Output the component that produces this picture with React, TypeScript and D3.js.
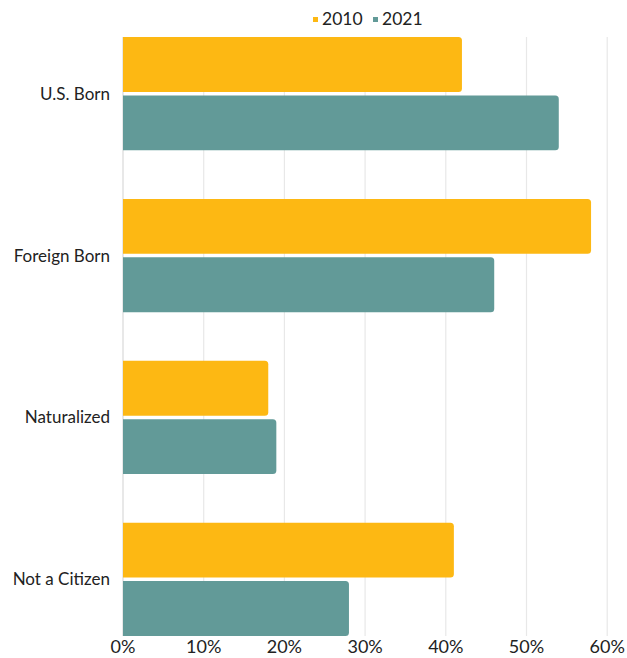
import React, { useRef, useEffect } from 'react';
import * as d3 from 'd3';

const categories = ['U.S. Born', 'Foreign Born', 'Naturalized', 'Not a Citizen'];
const seriesNames = ['2010', '2021'];
const values2010 = [42, 58, 18, 41];
const values2021 = [54, 46, 19, 28];
const xTicks = [0, 10, 20, 30, 40, 50, 60];
const colors = ['#FDB813', '#629A98'];

const width = 627;
const height = 658;

// horizontal bar with rounded right end only
const barPath = (x0: number, x1: number, y: number, h: number, r: number) => {
  const rr = Math.min(r, (x1 - x0) / 2, h / 2);
  return `M${x0},${y}H${x1 - rr}Q${x1},${y} ${x1},${y + rr}V${y + h - rr}Q${x1},${y + h} ${x1 - rr},${y + h}H${x0}Z`;
};

const App: React.FC = () => {
  const ref = useRef<SVGSVGElement>(null);

  useEffect(() => {
    const svg = d3.select(ref.current);
    svg.selectAll('*').remove();

    const margin = { top: 37, right: 20, bottom: 22, left: 123 };
    const font = 'Lato, sans-serif';

    const x = d3.scaleLinear().domain([0, 60]).range([margin.left, margin.left + 80.7 * 6]);
    const y = d3.scaleBand<string>()
      .domain(categories)
      .range([margin.top, height - margin.bottom])
      .paddingInner(0.3)
      .paddingOuter(0);
    const ySub = d3.scaleBand<string>()
      .domain(seriesNames)
      .range([0, y.bandwidth()])
      .paddingInner(0.06);

    // gridlines
    svg.append('g')
      .selectAll('line')
      .data(xTicks)
      .join('line')
      .attr('x1', d => x(d))
      .attr('x2', d => x(d))
      .attr('y1', margin.top)
      .attr('y2', height - margin.bottom)
      .attr('stroke', d => (d === 0 ? '#d9d9d9' : '#e8e8e8'))
      .attr('stroke-width', 1.2);

    // bars
    const series = [values2010, values2021];
    series.forEach((vals, si) => {
      svg.append('g')
        .selectAll('path')
        .data(categories)
        .join('path')
        .attr('fill', colors[si])
        .attr('d', (c, i) =>
          barPath(x(0), x(vals[i]), (y(c) as number) + (ySub(seriesNames[si]) as number), ySub.bandwidth(), 3.5)
        );
    });

    // category labels
    svg.append('g')
      .selectAll('text')
      .data(categories)
      .join('text')
      .attr('x', margin.left - 13)
      .attr('y', c => (y(c) as number) + y.bandwidth() / 2)
      .attr('dy', '0.35em')
      .attr('text-anchor', 'end')
      .attr('font-family', font)
      .attr('font-size', 17)
      .attr('fill', '#222')
      .text(c => c);

    // x tick labels
    svg.append('g')
      .selectAll('text')
      .data(xTicks)
      .join('text')
      .attr('x', d => x(d))
      .attr('y', height - 5)
      .attr('text-anchor', 'middle')
      .attr('font-family', font)
      .attr('font-size', 18)
      .attr('fill', '#222')
      .text(d => `${d}%`);

    // legend
    const legend = svg.append('g').attr('transform', 'translate(313,25)');
    const offsets = [0, 60];
    seriesNames.forEach((s, i) => {
      const g = legend.append('g').attr('transform', `translate(${offsets[i]},0)`);
      g.append('rect')
        .attr('x', 0)
        .attr('y', -8)
        .attr('width', 5)
        .attr('height', 5)
        .attr('fill', colors[i]);
      g.append('text')
        .attr('x', 9)
        .attr('y', 0)
        .attr('font-family', font)
        .attr('font-size', 17.5)
        .attr('fill', '#222')
        .text(s);
    });
  }, []);

  return <svg ref={ref} width={width} height={height} style={{ position: 'absolute', left: 0, top: 0 }} />;
};

export default App;
